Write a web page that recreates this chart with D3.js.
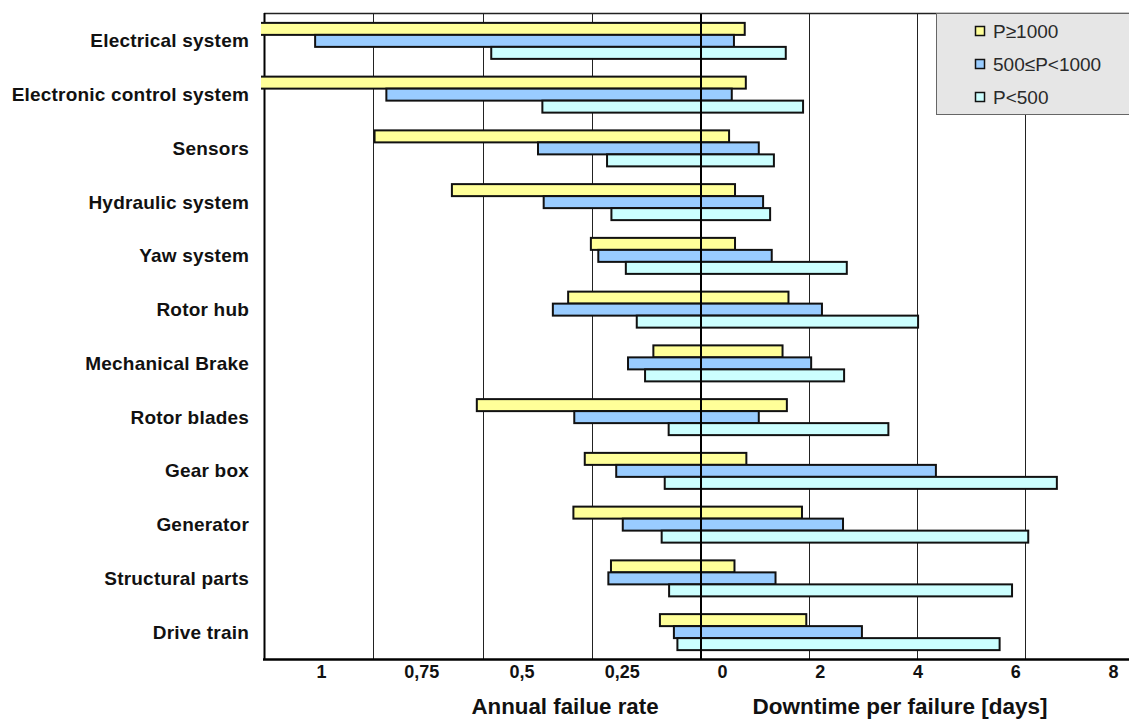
<!DOCTYPE html>
<html>
<head>
<meta charset="utf-8">
<script src="https://cdn.jsdelivr.net/npm/d3@7"></script>
<style>
  html, body { margin: 0; padding: 0; background: #fff; }
  svg { display: block; font-family: "Liberation Sans", Arial, sans-serif; }
</style>
</head>
<body>
<svg id="chart" width="1129" height="719"></svg>
<script>
// ---- data ----
const categories = ["Electrical system", "Electronic control system", "Sensors", "Hydraulic system",
  "Yaw system", "Rotor hub", "Mechanical Brake", "Rotor blades", "Gear box", "Generator",
  "Structural parts", "Drive train"];
const seriesNames = ["P≥1000", "500≤P<1000", "P<500"];
// annual failure rate (left side)
const rateHigh = [1.10, 1.10, 0.747, 0.570, 0.252, 0.304, 0.109, 0.513, 0.266, 0.292, 0.206, 0.094];
const rateMid  = [0.883, 0.720, 0.373, 0.360, 0.235, 0.339, 0.167, 0.290, 0.194, 0.179, 0.212, 0.062];
const rateLow  = [0.480, 0.363, 0.215, 0.205, 0.172, 0.147, 0.128, 0.074, 0.083, 0.090, 0.073, 0.054];
// downtime per failure in days (right side)
const downHigh = [0.81, 0.83, 0.52, 0.63, 0.63, 1.62, 1.51, 1.59, 0.84, 1.87, 0.62, 1.95];
const downMid  = [0.61, 0.57, 1.07, 1.15, 1.31, 2.24, 2.04, 1.07, 4.35, 2.63, 1.38, 2.98];
const downLow  = [1.57, 1.89, 1.35, 1.28, 2.70, 4.02, 2.65, 3.47, 6.59, 6.06, 5.76, 5.53];
const rateTicks = [1, 0.75, 0.5, 0.25];
const downTicks = [0, 2, 4, 6, 8];
const rateGrid = [0.25, 0.5, 0.75];
const downGrid = [2, 4, 6];
const colors = ["#ffff99", "#99ccff", "#ccffff"];

const rates = [rateHigh, rateMid, rateLow];
const downs = [downHigh, downMid, downLow];

// ---- layout ----
const svg = d3.select("#chart");
const plotTop = 14, plotBottom = 659, plotLeft = 264, zeroX = 701;

const xL = d3.scaleLinear().domain([0, 1]).range([zeroX, plotLeft]);
const xR = d3.scaleLinear().domain([0, 8]).range([zeroX, zeroX + 432]);
const y = d3.scaleBand().domain(categories).range([plotTop, plotBottom]);
const ySub = d3.scaleBand().domain(seriesNames).range([-18, 18]);

// label scales for the bottom text row
const lblL = d3.scaleLinear().domain([0, 1]).range([722, 321]);
const lblR = d3.scaleLinear().domain([0, 8]).range([722, 1113]);

svg.append("defs").append("clipPath").attr("id", "clip")
  .append("rect").attr("x", 261).attr("y", 0).attr("width", 900).attr("height", 719);

// gridlines
const grid = svg.append("g").attr("stroke", "#222").attr("stroke-width", 1);
grid.selectAll("line.gl").data(rateGrid).join("line")
  .attr("x1", d => Math.round(xL(d)) + 0.5).attr("x2", d => Math.round(xL(d)) + 0.5)
  .attr("y1", plotTop).attr("y2", plotBottom);
grid.selectAll("line.gr").data(downGrid).join("line")
  .attr("x1", d => Math.round(xR(d)) + 0.5).attr("x2", d => Math.round(xR(d)) + 0.5)
  .attr("y1", plotTop).attr("y2", plotBottom);

// borders
svg.append("line").attr("x1", plotLeft).attr("x2", 1129).attr("y1", 13.5).attr("y2", 13.5)
  .attr("stroke", "#222").attr("stroke-width", 1.5);
svg.append("line").attr("x1", 264.5).attr("x2", 264.5).attr("y1", 13).attr("y2", 660)
  .attr("stroke", "#000").attr("stroke-width", 2);

// bars
const bars = svg.append("g").attr("clip-path", "url(#clip)");
seriesNames.forEach((s, si) => {
  const g = bars.append("g").attr("fill", colors[si]).attr("stroke", "#111").attr("stroke-width", 2);
  const rows = categories.map((c, i) => ({ c, r: rates[si][i], d: downs[si][i] }));
  g.selectAll("rect.l").data(rows).join("rect")
    .attr("x", d => xL(d.r)).attr("width", d => zeroX - xL(d.r))
    .attr("y", d => y(d.c) + y.bandwidth() / 2 + ySub(s)).attr("height", ySub.bandwidth());
  g.selectAll("rect.r").data(rows).join("rect")
    .attr("x", zeroX).attr("width", d => xR(d.d) - zeroX)
    .attr("y", d => y(d.c) + y.bandwidth() / 2 + ySub(s)).attr("height", ySub.bandwidth());
});

// zero line on top
svg.append("line").attr("x1", zeroX).attr("x2", zeroX).attr("y1", plotTop).attr("y2", plotBottom)
  .attr("stroke", "#000").attr("stroke-width", 2);

// bottom axis line
svg.append("line").attr("x1", 263).attr("x2", 1129).attr("y1", 659.5).attr("y2", 659.5)
  .attr("stroke", "#000").attr("stroke-width", 2.5);

// category labels
svg.append("g").selectAll("text").data(categories).join("text")
  .attr("x", 249).attr("y", d => y(d) + y.bandwidth() / 2 + 6.5)
  .attr("text-anchor", "end").attr("font-size", 19).attr("font-weight", "bold")
  .attr("letter-spacing", 0.2).attr("fill", "#111").text(d => d);

// tick labels
const fmt = d => String(d).replace(".", ",");
const axL = svg.append("g").attr("transform", "translate(0,665)")
  .call(d3.axisBottom(lblL).tickValues(rateTicks).tickFormat(fmt).tickSize(0).tickPadding(0));
const axR = svg.append("g").attr("transform", "translate(0,665)")
  .call(d3.axisBottom(lblR).tickValues(downTicks).tickFormat(fmt).tickSize(0).tickPadding(0));
[axL, axR].forEach(ax => {
  ax.select(".domain").remove();
  ax.selectAll("text").attr("font-size", 18).attr("font-weight", "bold").attr("fill", "#111")
    .attr("font-family", "'Liberation Sans', Arial, sans-serif").attr("dy", "0.72em").attr("y", 0);
});

// axis titles
svg.append("text").attr("x", 565).attr("y", 714).attr("text-anchor", "middle")
  .attr("font-size", 22.3).attr("font-weight", "bold").attr("fill", "#111").text("Annual failue rate");
svg.append("text").attr("x", 900).attr("y", 714).attr("text-anchor", "middle")
  .attr("font-size", 22.5).attr("font-weight", "bold").attr("fill", "#111").text("Downtime per failure [days]");

// legend
const lg = svg.append("g");
lg.append("rect").attr("x", 936.5).attr("y", 13.5).attr("width", 200).attr("height", 101)
  .attr("fill", "#e6e6e6").attr("stroke", "#666").attr("stroke-width", 1);
const items = lg.selectAll("g.item").data(seriesNames).join("g")
  .attr("transform", (d, i) => `translate(0,${31.5 + 33 * i})`);
items.append("rect").attr("x", 975.5).attr("y", -5).attr("width", 9).attr("height", 9)
  .attr("fill", (d, i) => colors[i]).attr("stroke", "#111").attr("stroke-width", 1.5);
items.append("text").attr("x", 993).attr("y", 6.5).attr("font-size", 19)
  .attr("fill", "#2a2a2a").text(d => d);
</script>
</body>
</html>
